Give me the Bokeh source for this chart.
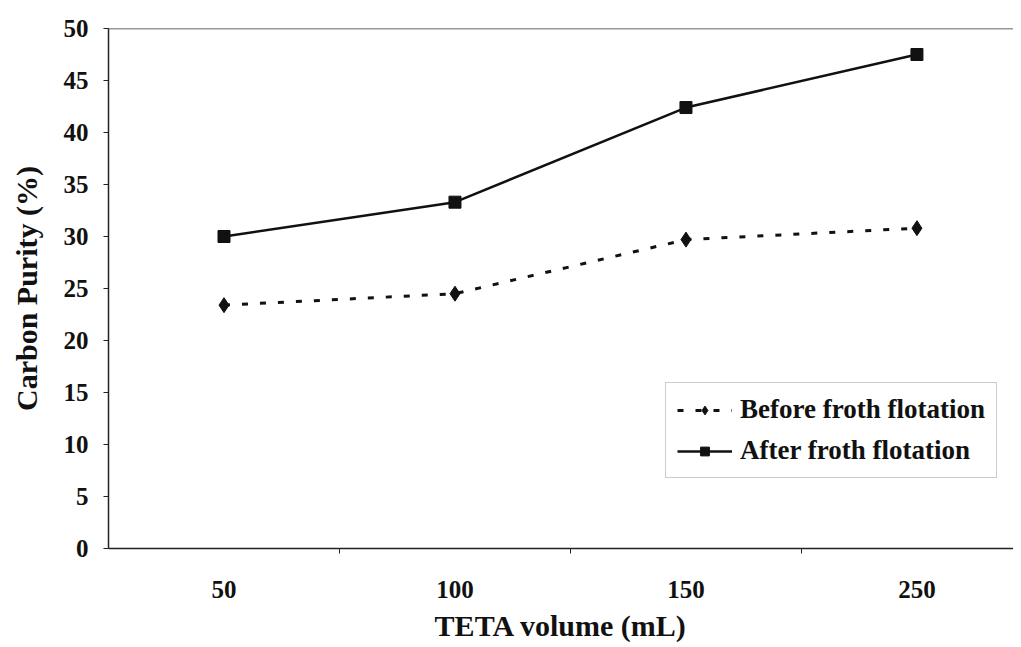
from bokeh.plotting import figure
from bokeh.models import FixedTicker, Range1d, Span, Legend, LegendItem
from bokeh.embed import file_html
from bokeh.resources import INLINE

categories = ["50", "100", "150", "250"]
before = [23.4, 24.5, 29.7, 30.8]
after = [30.0, 33.3, 42.4, 47.5]

xs = [i + 0.5 for i in range(len(categories))]

FONT = "Liberation Serif"

p = figure(width=1013, height=645, output_backend="svg", toolbar_location=None,
           x_range=Range1d(0, 3.918), y_range=Range1d(0, 50),
           min_border_left=108, min_border_right=0, min_border_top=28, min_border_bottom=97)
p.outline_line_color = None
p.grid.grid_line_color = None
p.background_fill_color = "white"

# top border line
p.add_layout(Span(location=50, dimension="width", line_color="#333333", line_width=1.5))

p.xaxis.ticker = FixedTicker(ticks=xs, minor_ticks=[1, 2, 3])
p.xaxis.major_label_overrides = {x: c for x, c in zip(xs, categories)}
p.xaxis.major_tick_out = 0
p.xaxis.major_tick_in = 0
p.xaxis.minor_tick_out = 5
p.xaxis.minor_tick_in = 0
p.xaxis.major_label_standoff = 27
p.xaxis.axis_label = "TETA volume (mL)"
p.xaxis.axis_label_standoff = 8

p.yaxis.ticker = FixedTicker(ticks=list(range(0, 51, 5)))
p.yaxis.major_tick_out = 5
p.yaxis.major_tick_in = 0
p.yaxis.major_label_standoff = 15
p.yaxis.axis_label = "Carbon Purity (%)"
p.yaxis.axis_label_standoff = 18

for ax in (p.xaxis, p.yaxis):
    ax.axis_line_color = "#222222"
    ax.axis_line_width = 1.5
    ax.major_tick_line_color = "#222222"
    ax.minor_tick_line_color = "#222222"
    ax.major_label_text_font = FONT
    ax.major_label_text_font_style = "bold"
    ax.major_label_text_font_size = "25px"
    ax.major_label_text_color = "#111111"
    ax.axis_label_text_font = FONT
    ax.axis_label_text_font_style = "bold"
    ax.axis_label_text_font_size = "30px"
    ax.axis_label_text_color = "#111111"

l1 = p.line(xs, before, line_color="#111111", line_width=3, line_dash="6 12")
m1 = p.scatter(xs, before, marker="diamond", size=15, fill_color="#111111", line_color="#111111")
l2 = p.line(xs, after, line_color="#111111", line_width=2.5)
m2 = p.scatter(xs, after, marker="square", size=12, fill_color="#111111", line_color="#111111")

legend = Legend(items=[LegendItem(label="Before froth flotation", renderers=[l1, m1]),
                       LegendItem(label="After froth flotation", renderers=[l2, m2])],
                location=(557, 70))
legend.label_text_font = FONT
legend.label_text_font_style = "bold"
legend.label_text_font_size = "27px"
legend.label_text_color = "#111111"
legend.border_line_color = "#999999"
legend.border_line_width = 1
legend.glyph_width = 55
legend.glyph_height = 22
legend.label_standoff = 8
legend.spacing = 10
legend.padding = 11
legend.margin = 0
legend.label_height = 22
p.add_layout(legend)

open("out.html", "w").write(file_html(p, INLINE))
